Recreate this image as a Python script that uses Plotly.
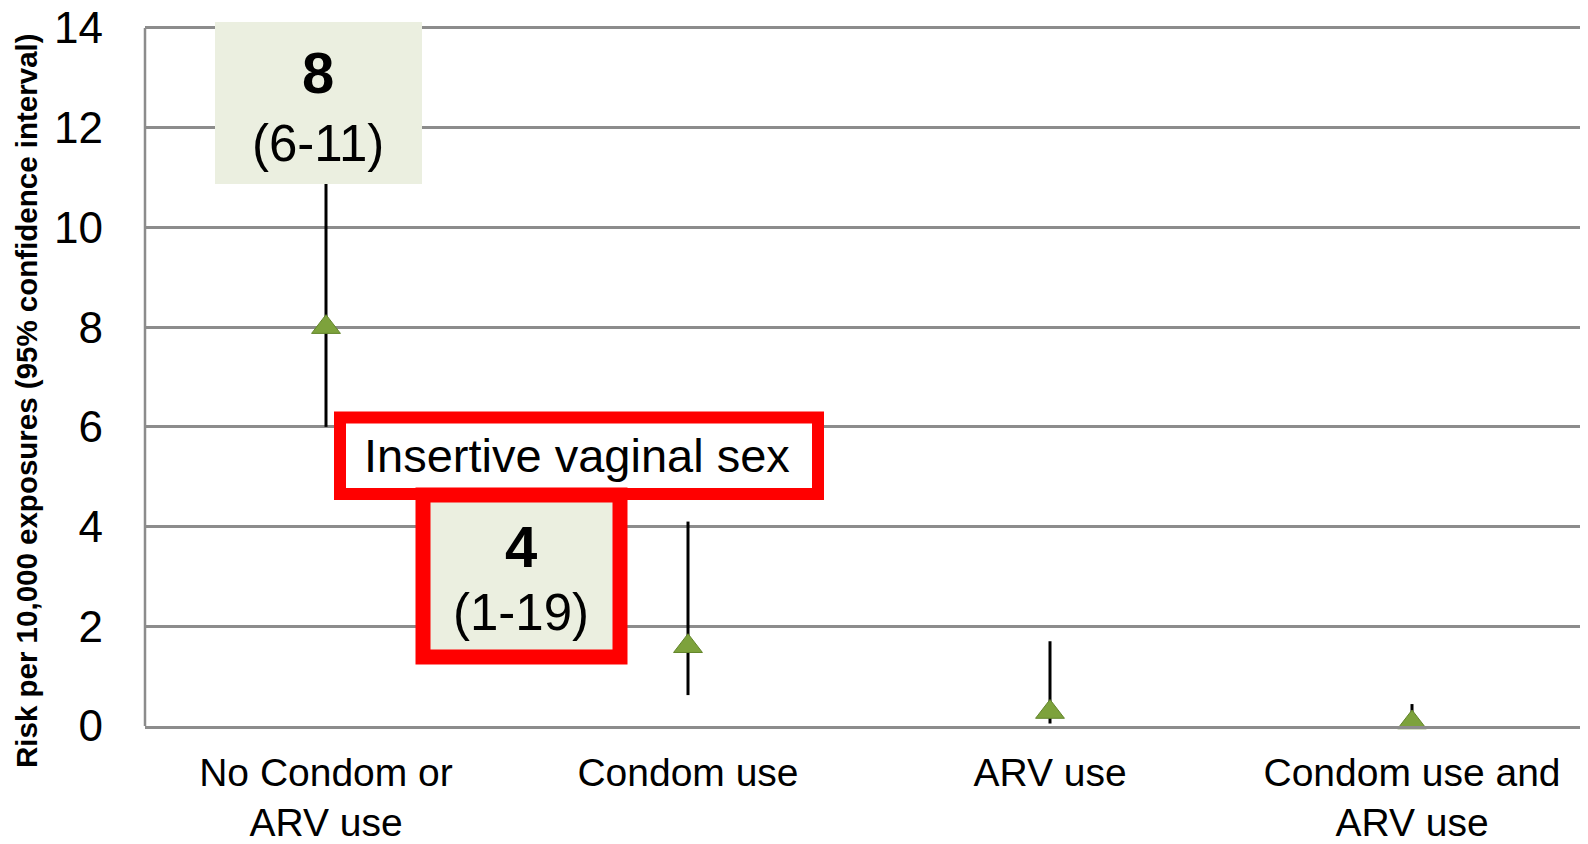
import plotly.graph_objects as go

# ---- data ----
categories = ["No Condom or<br>ARV use", "Condom use", "ARV use", "Condom use and<br>ARV use"]
risk = [8.0, 1.6, 0.28, 0.07]
ci_low = [6.0, 0.62, 0.05, 0.0]
ci_high = [11.0, 4.1, 1.7, 0.44]
y_ticks = [0, 2, 4, 6, 8, 10, 12, 14]
y_title = "Risk per 10,000 exposures (95% confidence interval)"
box1_value, box1_ci = "8", "(6-11)"
box2_value, box2_ci = "4", "(1-19)"
callout_label = "Insertive vaginal sex"

# ---- layout geometry (screen pixels; page body has an 8px offset) ----
OFF = 8
W, H = 1588 - OFF, 844 - OFF
UNIT = 698 / 14.0          # pixels per y unit
Y_TOP = 14.1
PLOT_LEFT, PLOT_BOTTOM = 145, 726   # screen coords
PW = 1588 - PLOT_LEFT
PH = Y_TOP * UNIT
ML = PLOT_LEFT - OFF
MT = (PLOT_BOTTOM - PH) - OFF
MB = H - (PLOT_BOTTOM - OFF)
FONT = "Liberation Sans, Arial, sans-serif"
GRID = "#8C8C8C"
BEIGE = "#EBEFE0"
RED = "#FF0000"


def fx(px):
    return (px - PLOT_LEFT) / PW


def fy(py):
    return (PLOT_BOTTOM - py) / PH


x_idx = list(range(len(categories)))
err_plus = [h - v for h, v in zip(ci_high, risk)]
err_minus = [v - l for v, l in zip(risk, ci_low)]

fig = go.Figure()
fig.add_trace(go.Scatter(
    x=x_idx, y=risk, mode="markers",
    marker=dict(symbol="triangle-up", size=25, color="#7DA23C",
                line=dict(color="#62852A", width=1)),
    error_y=dict(type="data", symmetric=False, array=err_plus, arrayminus=err_minus,
                 color="black", thickness=3, width=0),
    showlegend=False, cliponaxis=False,
))

shapes = [
    # left axis line, from 0 to the top tick
    dict(type="line", xref="paper", yref="y", x0=0, x1=0, y0=y_ticks[0], y1=y_ticks[-1],
         line=dict(color=GRID, width=2.5), layer="below"),
    dict(type="rect", xref="paper", yref="paper", x0=fx(215), x1=fx(422), y0=fy(184), y1=fy(22),
         fillcolor=BEIGE, line=dict(width=0), layer="above"),
    dict(type="rect", xref="paper", yref="paper", x0=fx(340), x1=fx(818), y0=fy(494), y1=fy(417.5),
         fillcolor="white", line=dict(color=RED, width=12), layer="above"),
    dict(type="rect", xref="paper", yref="paper", x0=fx(423), x1=fx(620), y0=fy(657), y1=fy(495),
         fillcolor=BEIGE, line=dict(color=RED, width=15), layer="above"),
]

annotations = [
    dict(text=f"<b>{box1_value}</b>", x=fx(318), y=fy(73), font=dict(size=58, color="black", family=FONT)),
    dict(text=box1_ci, x=fx(318), y=fy(144), font=dict(size=51, color="black", family=FONT)),
    dict(text=callout_label, x=fx(577), y=fy(456), font=dict(size=47, color="black", family=FONT)),
    dict(text=f"<b>{box2_value}</b>", x=fx(521), y=fy(547), font=dict(size=58, color="black", family=FONT)),
    dict(text=box2_ci, x=fx(521), y=fy(613), font=dict(size=51, color="black", family=FONT)),
    dict(text=f"<b>{y_title}</b>", x=fx(27), y=fy(401), textangle=-90,
         font=dict(size=29.5, color="black", family=FONT)),
]
for a in annotations:
    a.update(xref="paper", yref="paper", showarrow=False, xanchor="center", yanchor="middle")

fig.update_layout(
    width=W, height=H,
    margin=dict(l=ML, r=0, t=MT, b=MB, pad=0, autoexpand=False),
    paper_bgcolor="white", plot_bgcolor="white",
    font=dict(family=FONT, color="black"),
    shapes=shapes, annotations=annotations,
    xaxis=dict(range=[-0.5, -0.5 + PW / 362.0], tickvals=x_idx, ticktext=categories,
               showgrid=False, zeroline=False, showline=True, linecolor=GRID, linewidth=2.5,
               ticks="", tickfont=dict(size=39, color="black", family=FONT), ticklabelstandoff=10,
               automargin=False, fixedrange=True),
    yaxis=dict(range=[0, Y_TOP], tickvals=y_ticks, showgrid=True, gridcolor=GRID, gridwidth=2.5,
               zeroline=False, showline=False, ticks="",
               tickfont=dict(size=44, color="black", family=FONT), ticklabelstandoff=41,
               ticklabeloverflow="allow", automargin=False, fixedrange=True),
)

fig.write_html("out.html")
